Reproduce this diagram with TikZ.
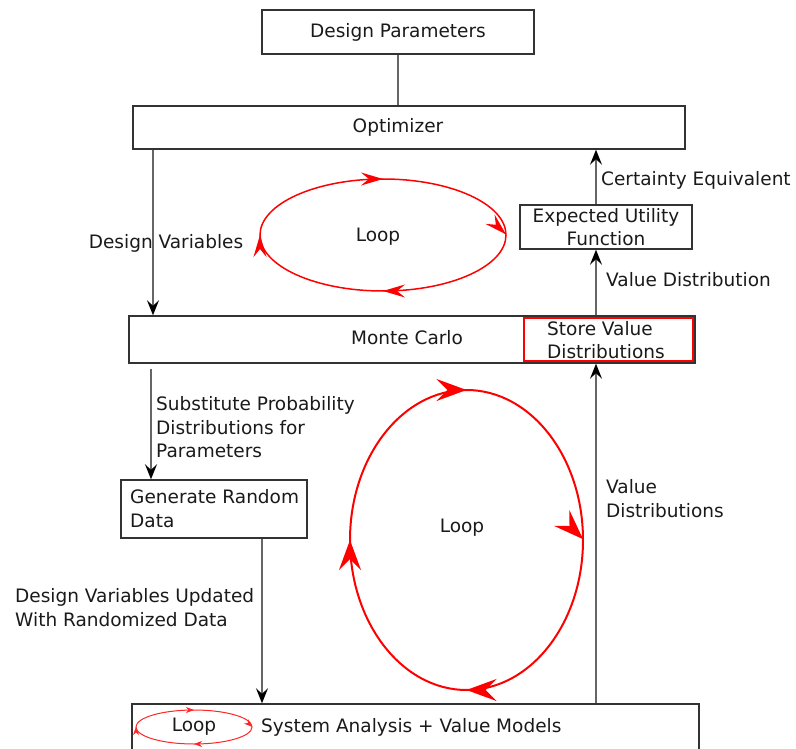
\documentclass[tikz,border=0pt]{standalone}
\usepackage{fontspec}
\setmainfont{DejaVu Sans}
\usetikzlibrary{arrows.meta,decorations.markings}
\definecolor{boxc}{HTML}{333333}
\definecolor{linec}{HTML}{666666}
\definecolor{txtc}{HTML}{1A1A1A}
\definecolor{loopred}{HTML}{FF0000}
\begin{document}
\begin{tikzpicture}[x=1pt,y=-1pt,
  font=\fontsize{18.5}{23.5}\selectfont,
  box/.style={draw=boxc, line width=1.4pt, fill=white, inner sep=0pt, text=txtc},
  txt/.style={text=txtc, inner sep=0pt},
  conn/.style={draw=linec, line width=1.5pt},
  arr/.style={conn, -{Stealth[length=15pt,width=12pt,inset=5.5pt,color=black]}},
  bigloop/.style={color=loopred, line width=2pt, postaction=decorate,
    decoration={markings,
      mark=at position 0.001 with {\pgftransformrotate{45}\arrowreversed{Stealth[length=30pt,width=22pt,inset=11pt]}},
      mark=at position 0.25 with {\arrowreversed{Stealth[length=30pt,width=22pt,inset=11pt]}},
      mark=at position 0.5 with {\arrowreversed{Stealth[length=30pt,width=22pt,inset=11pt]}},
      mark=at position 0.75 with {\arrowreversed{Stealth[length=30pt,width=22pt,inset=11pt]}}}},
  toploop/.style={color=loopred, line width=1.5pt, postaction=decorate,
    decoration={markings,
      mark=at position 0.001 with {\pgftransformrotate{45}\arrowreversed{Stealth[length=22pt,width=13pt,inset=8pt]}},
      mark=at position 0.25 with {\arrowreversed{Stealth[length=22pt,width=13pt,inset=8pt]}},
      mark=at position 0.5 with {\arrowreversed{Stealth[length=22pt,width=13pt,inset=8pt]}},
      mark=at position 0.75 with {\arrowreversed{Stealth[length=22pt,width=13pt,inset=8pt]}}}},
  smallloop/.style={color=loopred!85, line width=1pt, postaction=decorate,
    decoration={markings,
      mark=at position 0.001 with {\pgftransformrotate{45}\arrowreversed{Stealth[length=8pt,width=6pt,inset=2.5pt]}},
      mark=at position 0.25 with {\arrowreversed{Stealth[length=8pt,width=6pt,inset=2.5pt]}},
      mark=at position 0.5 with {\arrowreversed{Stealth[length=8pt,width=6pt,inset=2.5pt]}},
      mark=at position 0.75 with {\arrowreversed{Stealth[length=8pt,width=6pt,inset=2.5pt]}}}}
]
\useasboundingbox (0,0) rectangle (796,749);
\clip (0,0) rectangle (796,749);

% boxes
\node[box, minimum width=272pt, minimum height=44pt] (dp) at (398,32) {Design Parameters};
\node[box, minimum width=552pt, minimum height=43pt] (opt) at (409,127.5) {};
\node[txt] (optt) at (398,127) {Optimizer};
\node[box, minimum width=172pt, minimum height=44pt, align=center] (euf) at (606,227) {Expected Utility\\Function};
\node[box, minimum width=566pt, minimum height=47pt] (mc) at (412,339.5) {};
\node[txt] (mct) at (407,338) {Monte Carlo};
\node[draw=loopred, line width=1.4pt, minimum width=169pt, minimum height=43pt, inner sep=0pt] (svd) at (608.5,339.5) {};
\node[txt, align=left] (svdt) at (606,340) {Store Value\\Distributions};
\node[box, minimum width=186pt, minimum height=58pt] (grd) at (214,509) {};
\node[txt, align=left, anchor=west] (grdt) at (130,508.5) {Generate Random\\Data};
\node[box, minimum width=567pt, minimum height=90pt] (sys) at (415.5,749) {};
\node[txt, anchor=west] (syst) at (261,727) {System Analysis + Value Models};

% connector x positions
\coordinate (xa) at (153,0);
\coordinate (xb) at (151,0);
\coordinate (xc) at (262,0);
\coordinate (xd) at (596,0);

\draw[conn] (dp.south) -- (dp.south |- opt.north);
\draw[arr] (opt.south -| xa) -- (mc.north -| xa);
\draw[arr] ([yshift=-5pt]mc.south -| xb) -- (grd.north -| xb);
\draw[arr] (grd.south -| xc) -- (sys.north -| xc);
\draw[arr] (sys.north -| xd) -- (mc.south -| xd);
\draw[arr] (mc.north -| xd) -- (euf.south -| xd);
\draw[arr] (euf.north -| xd) -- (opt.south -| xd);

% labels
\node[txt] (l1) at (166,243) {Design Variables};
\node[txt, anchor=west] (l2) at (601,180) {Certainty Equivalent};
\node[txt, anchor=west] (l3) at (606,280) {Value Distribution};
\node[txt, anchor=west, align=left] (l4) at (156,427.5) {Substitute Probability\\Distributions for\\Parameters};
\node[txt, anchor=west, align=left] (l5) at (15,607.5) {Design Variables Updated\\With Randomized Data};
\node[txt, anchor=west, align=left] (l6) at (606,498.5) {Value\\Distributions};

% loops
\draw[toploop] (383,235) ellipse [x radius=123pt, y radius=56pt];
\node[txt] (tl) at (378,237) {Loop};
\draw[bigloop] (466.5,540) ellipse [x radius=116.5pt, y radius=150pt];
\node[txt] (bl) at (462,528) {Loop};
\draw[smallloop] (194,727) ellipse [x radius=58pt, y radius=17pt];
\node[txt] (sl) at (194,727) {Loop};
\end{tikzpicture}
\end{document}
